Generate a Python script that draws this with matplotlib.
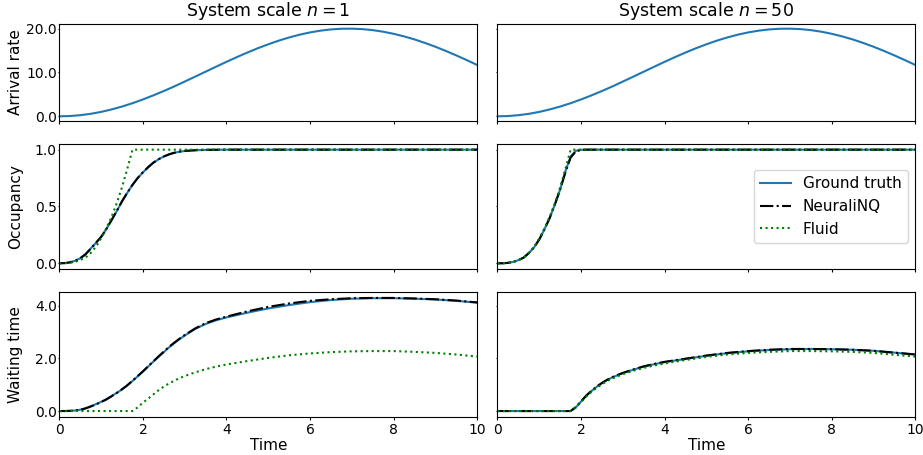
import numpy as np
import matplotlib.pyplot as plt
from matplotlib.ticker import FormatStrFormatter

# arrival-rate time grid and values
t_arr = [0, 0.25, 0.5, 0.75, 1.0, 1.25, 1.5, 1.75, 2.0, 2.25, 2.5, 2.75, 3.0, 3.25, 3.5, 3.75, 4.0,
         4.25, 4.5, 4.75, 5.0, 5.25, 5.5, 5.75, 6.0, 6.25, 6.5, 6.75, 7.0, 7.25, 7.5, 7.75, 8.0,
         8.25, 8.5, 8.75, 9.0, 9.25, 9.5, 9.75, 10.0]
arrival = [0, 0.06, 0.26, 0.57, 1.01, 1.57, 2.23, 2.99, 3.85, 4.78, 5.77, 6.82, 7.93, 9.05, 10.18, 11.31, 12.43,
           13.51, 14.55, 15.53, 16.43, 17.26, 17.99, 18.62, 19.14, 19.54, 19.82, 19.97, 19.99, 19.89, 19.66, 19.30, 18.82,
           18.23, 17.54, 16.74, 15.87, 14.91, 13.89, 12.82, 11.71]

# time grid for occupancy / waiting time
t = [0, 0.125, 0.25, 0.375, 0.5, 0.625, 0.75, 0.875, 1.0, 1.125, 1.25, 1.375, 1.5, 1.625, 1.75, 1.875,
     2.0, 2.125, 2.25, 2.375, 2.5, 2.625, 2.75, 2.875, 3.0, 3.25, 3.5, 3.75, 4.0,
     4.5, 5.0, 5.5, 6.0, 6.5, 7.0, 7.5, 8.0, 8.5, 9.0, 9.5, 10.0]

# occupancy
occ_gt_1 = [0, 0.002, 0.008, 0.022, 0.045, 0.08, 0.13, 0.18, 0.232, 0.30, 0.38, 0.46, 0.545, 0.62, 0.69, 0.75,
            0.80, 0.845, 0.885, 0.915, 0.94, 0.958, 0.972, 0.982, 0.988, 0.995, 0.998, 0.999, 1.0,
            1.0, 1.0, 1.0, 1.0, 1.0, 1.0, 1.0, 1.0, 1.0, 1.0, 1.0, 1.0]
occ_nn_1 = [0, 0.002, 0.008, 0.021, 0.044, 0.079, 0.128, 0.18, 0.233, 0.301, 0.381, 0.462, 0.546, 0.621, 0.69, 0.751,
            0.801, 0.846, 0.886, 0.916, 0.94, 0.959, 0.973, 0.983, 0.989, 0.995, 0.998, 0.999, 1.0,
            1.0, 1.0, 1.0, 1.0, 1.0, 1.0, 1.0, 1.0, 1.0, 1.0, 1.0, 1.0]
occ_gt_50 = [0, 0.0005, 0.004, 0.012, 0.028, 0.05, 0.09, 0.14, 0.21, 0.30, 0.40, 0.52, 0.65, 0.81, 0.94, 0.99,
             0.999, 1.0, 1.0, 1.0, 1.0, 1.0, 1.0, 1.0, 1.0, 1.0, 1.0, 1.0, 1.0,
             1.0, 1.0, 1.0, 1.0, 1.0, 1.0, 1.0, 1.0, 1.0, 1.0, 1.0, 1.0]
occ_nn_50 = [0, 0.0005, 0.004, 0.012, 0.028, 0.05, 0.09, 0.14, 0.21, 0.30, 0.40, 0.52, 0.65, 0.80, 0.93, 0.985,
             0.998, 1.0, 1.0, 1.0, 1.0, 1.0, 1.0, 1.0, 1.0, 1.0, 1.0, 1.0, 1.0,
             1.0, 1.0, 1.0, 1.0, 1.0, 1.0, 1.0, 1.0, 1.0, 1.0, 1.0, 1.0]
occ_fluid = [0, 0.0005, 0.004, 0.012, 0.028, 0.05, 0.09, 0.145, 0.22, 0.31, 0.41, 0.53, 0.67, 0.83, 1.0, 1.0,
             1.0, 1.0, 1.0, 1.0, 1.0, 1.0, 1.0, 1.0, 1.0, 1.0, 1.0, 1.0, 1.0,
             1.0, 1.0, 1.0, 1.0, 1.0, 1.0, 1.0, 1.0, 1.0, 1.0, 1.0, 1.0]

# waiting time
wait_gt_1 = [0, 0.001, 0.006, 0.02, 0.05, 0.10, 0.18, 0.26, 0.35, 0.45, 0.57, 0.69, 0.82, 0.97, 1.14, 1.32,
             1.50, 1.69, 1.88, 2.06, 2.24, 2.42, 2.58, 2.73, 2.87, 3.12, 3.31, 3.45, 3.56,
             3.74, 3.90, 4.03, 4.14, 4.22, 4.27, 4.29, 4.29, 4.27, 4.24, 4.19, 4.12]
wait_nn_1 = [0, 0.001, 0.006, 0.02, 0.05, 0.10, 0.17, 0.25, 0.34, 0.44, 0.56, 0.69, 0.83, 0.98, 1.15, 1.33,
             1.51, 1.70, 1.89, 2.08, 2.26, 2.44, 2.60, 2.75, 2.89, 3.14, 3.34, 3.48, 3.59,
             3.79, 3.96, 4.09, 4.19, 4.25, 4.29, 4.30, 4.30, 4.28, 4.25, 4.20, 4.13]
wait_fluid_1 = [0, 0, 0, 0, 0, 0, 0, 0, 0, 0, 0, 0, 0, 0, 0, 0.14,
                0.32, 0.47, 0.63, 0.79, 0.93, 1.05, 1.15, 1.25, 1.33, 1.47, 1.59, 1.69, 1.77,
                1.90, 2.02, 2.12, 2.19, 2.24, 2.27, 2.28, 2.28, 2.25, 2.21, 2.15, 2.07]
wait_gt_50 = [0, 0, 0, 0, 0, 0, 0, 0, 0, 0, 0, 0, 0, 0, 0, 0.14,
              0.36, 0.58, 0.76, 0.92, 1.06, 1.18, 1.28, 1.36, 1.44, 1.57, 1.69, 1.78, 1.86,
              1.98, 2.10, 2.20, 2.27, 2.32, 2.35, 2.36, 2.35, 2.33, 2.29, 2.22, 2.15]
wait_nn_50 = [0, 0, 0, 0, 0, 0, 0, 0, 0, 0, 0, 0, 0, 0, 0, 0.15,
              0.37, 0.59, 0.77, 0.93, 1.07, 1.19, 1.29, 1.37, 1.45, 1.58, 1.70, 1.79, 1.87,
              1.99, 2.11, 2.21, 2.28, 2.33, 2.36, 2.36, 2.35, 2.33, 2.29, 2.22, 2.15]
wait_fluid_50 = [0, 0, 0, 0, 0, 0, 0, 0, 0, 0, 0, 0, 0, 0, 0, 0.13,
                 0.34, 0.55, 0.73, 0.88, 1.02, 1.14, 1.24, 1.32, 1.40, 1.53, 1.64, 1.73, 1.81,
                 1.94, 2.06, 2.15, 2.21, 2.25, 2.28, 2.28, 2.27, 2.25, 2.21, 2.14, 2.07]

fig, axs = plt.subplots(3, 2, figsize=(9.23, 4.55), dpi=100, sharex=True, sharey='row',
                        gridspec_kw={'height_ratios': [96.4, 125, 124.4]})
fig.subplots_adjust(left=0.0643, right=0.9917, top=0.9466, bottom=0.0842, wspace=0.0486, hspace=0.202)

blue = '#1f77b4'
cols = [(occ_gt_1, occ_nn_1, wait_gt_1, wait_nn_1, wait_fluid_1, '$n=1$'),
        (occ_gt_50, occ_nn_50, wait_gt_50, wait_nn_50, wait_fluid_50, '$n=50$')]

for j, (ogt, onn, wgt, wnn, wfl, lab) in enumerate(cols):
    axs[0, j].plot(t_arr, arrival, c=blue, linewidth=1.5)
    axs[0, j].set_title('System scale ' + lab, fontsize=12.5)

    axs[1, j].plot(t, ogt, c=blue, linewidth=1.5, label='Ground truth')
    axs[1, j].plot(t, onn, c='k', linestyle='-.', linewidth=1.5, label='NeuraliNQ')
    axs[1, j].plot(t, occ_fluid, c='g', linestyle=':', linewidth=1.5, label='Fluid')

    axs[2, j].plot(t, wgt, c=blue, linewidth=1.5)
    axs[2, j].plot(t, wnn, c='k', linestyle='-.', linewidth=1.5)
    axs[2, j].plot(t, wfl, c='g', linestyle=':', linewidth=1.5)
    axs[2, j].set_xlabel('Time', fontsize=11, labelpad=1)

for ax in axs.flat:
    ax.tick_params(labelsize=10)
    ax.tick_params(axis='x', length=2.5, pad=2)
    ax.tick_params(axis='y', length=1, pad=0.8)
    ax.yaxis.set_major_formatter(FormatStrFormatter('%.1f'))
    ax.set_xlim(0, 10)

axs[0, 0].set_yticks([0, 10, 20])
axs[1, 0].set_yticks([0, 0.5, 1.0])
axs[2, 0].set_yticks([0, 2, 4])
axs[2, 0].set_xticks([0, 2, 4, 6, 8, 10])

axs[0, 0].set_ylabel('Arrival rate', fontsize=11, labelpad=2)
axs[1, 0].set_ylabel('Occupancy', fontsize=11, labelpad=2)
axs[2, 0].set_ylabel('Waiting time', fontsize=11, labelpad=2)
fig.align_ylabels(axs[:, 0])

axs[1, 1].legend(loc='center right', fontsize=11)

plt.savefig('out.png')
